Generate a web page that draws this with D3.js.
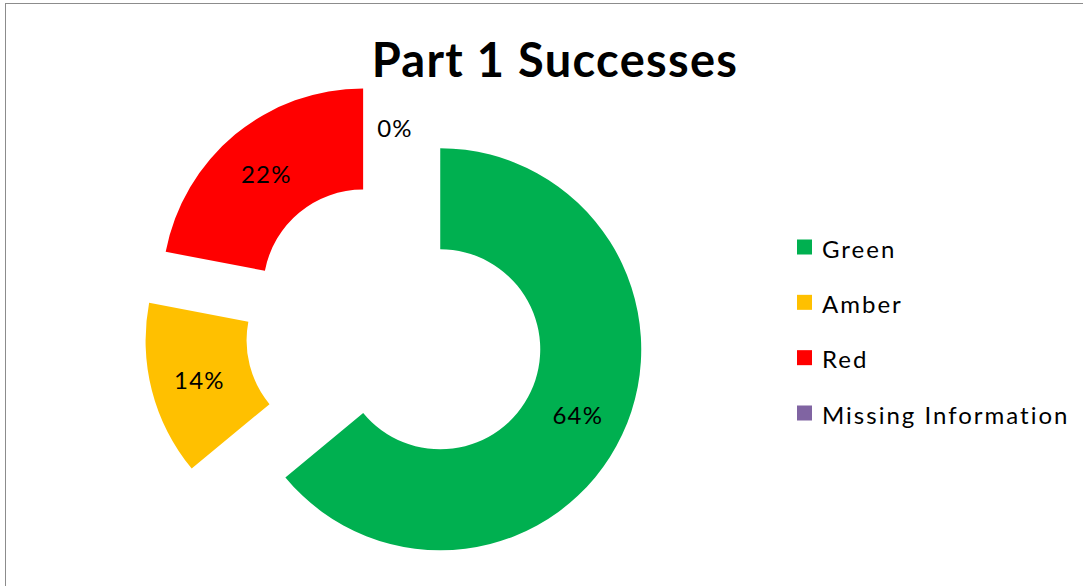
<!DOCTYPE html>
<html><head><meta charset="utf-8">
<script src="https://cdn.jsdelivr.net/npm/d3@7"></script>
<style>html,body{margin:0;padding:0;background:#fff;}svg{display:block;}</style>
</head><body>
<svg id="c" width="1083" height="586"></svg>
<script>
const categories = ["Green", "Amber", "Red", "Missing Information"];
const values = [64, 14, 22, 0];
const colors = ["#00B050", "#FFC000", "#FF0000", "#8064A2"];
const title = "Part 1 Successes";

const svg = d3.select("#c");
svg.append("rect").attr("x",5.5).attr("y",3.5).attr("width",1200).attr("height",700)
  .attr("fill","none").attr("stroke","#8c8c8c").attr("stroke-width",1);

svg.append("text").attr("x",555).attr("y",77).attr("text-anchor","middle")
  .attr("font-family","Lato, sans-serif").attr("font-weight","bold").attr("font-size",47)
  .attr("letter-spacing",1.3)
  .text(title);

const cx = 395, cy = 328, R = 201, r = 100, explode = 50, labelR = 152;
const data = categories.map((c,i)=>({name:c, value:values[i], color:colors[i]}));
const pie = d3.pie().sort(null).value(d=>d.value).startAngle(0).endAngle(2*Math.PI);
const arcs = pie(data);
const arc = d3.arc().innerRadius(r).outerRadius(R);
const g = svg.append("g").attr("transform",`translate(${cx},${cy})`);
arcs.forEach(a=>{
  const m = (a.startAngle + a.endAngle)/2;
  const ox = Math.sin(m)*explode, oy = -Math.cos(m)*explode;
  const sg = g.append("g").attr("transform",`translate(${ox},${oy})`);
  if (a.endAngle > a.startAngle) sg.append("path").attr("d",arc(a)).attr("fill",a.data.color);
  sg.append("text").attr("x",Math.sin(m)*labelR).attr("y",-Math.cos(m)*labelR + 1)
    .attr("text-anchor","middle").attr("dominant-baseline","central")
    .attr("font-family","Lato, sans-serif").attr("font-size",24).attr("letter-spacing",1.2).attr("fill","#000")
    .text(a.data.value + "%");
});

const lg = svg.append("g");
const ly = d3.scalePoint().domain(categories).range([247, 413]);
categories.forEach((c,i)=>{
  lg.append("rect").attr("x",797).attr("y",ly(c)-7.5).attr("width",15).attr("height",15).attr("fill",colors[i]);
  lg.append("text").attr("x",822).attr("y",ly(c)+1).attr("dominant-baseline","central")
    .attr("font-family","Lato, sans-serif").attr("font-size",24).attr("letter-spacing",2).attr("fill","#000").text(c);
});
</script>
</body></html>
